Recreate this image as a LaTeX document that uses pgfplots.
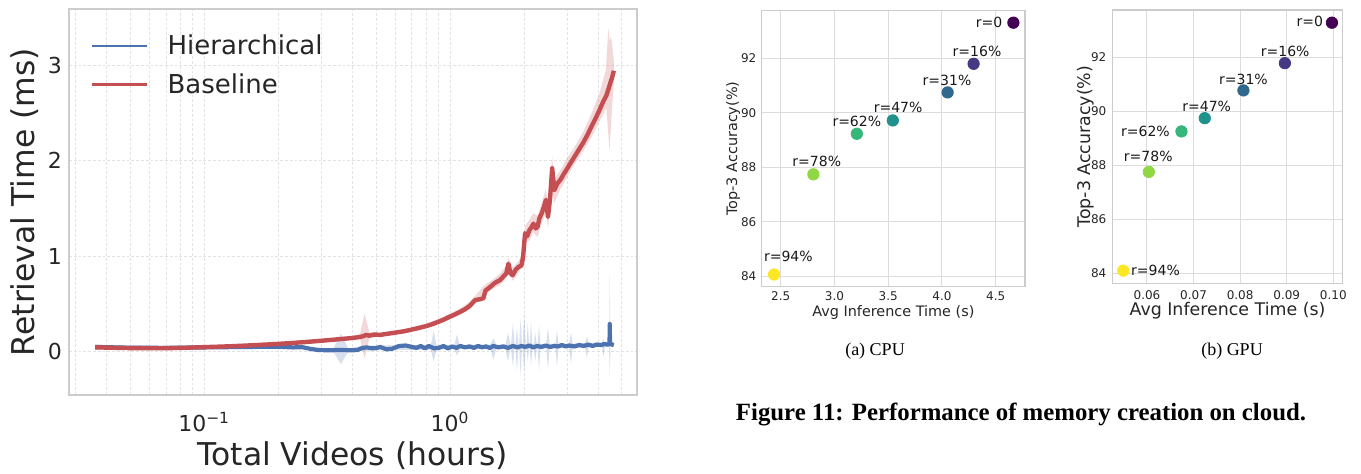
\documentclass[border=0pt]{standalone}
\usepackage{pgfplots}
\pgfplotsset{compat=1.18}
\usepackage{fontspec}
\setmainfont{DejaVu Sans}
\newfontfamily\capfont{Liberation Serif}

\definecolor{txt}{HTML}{262626}
\definecolor{cHier}{HTML}{4C72B0}
\definecolor{cBase}{HTML}{C44E52}
\definecolor{cFrame}{HTML}{CCCCCC}
\definecolor{cGridL}{HTML}{E3E3E3}
\definecolor{cGridR}{HTML}{DCDCDC}
\definecolor{v0}{HTML}{440154}
\definecolor{v1}{HTML}{443983}
\definecolor{v2}{HTML}{31688E}
\definecolor{v3}{HTML}{21918C}
\definecolor{v4}{HTML}{35B779}
\definecolor{v5}{HTML}{90D743}
\definecolor{v6}{HTML}{FDE725}

\tikzset{ann/.style={font=\fontsize{7}{8}\selectfont, text=black!90, inner sep=0pt}}

\pgfplotsset{
  panel/.style={
    scale only axis, anchor=south west,
    axis line style={draw=cFrame, line width=0.65pt},
    major tick length=0pt, minor tick length=0pt,
    tick label style={text=txt, inner sep=0pt},
    label style={text=txt},
    /pgf/number format/assume math mode=true,
  },
  scatterpanel/.style={
    panel,
    grid=major,
    major grid style={draw=cGridR, line width=0.5pt},
    ymin=83.62, ymax=93.75, ytick={84,86,88,90,92},
    tick label style={font=\fontsize{6}{7}\selectfont},
    ylabel={Top-3 Accuracy(\%)},
    xlabel={Avg Inference Time (s)},
  },
  rpts/.style={
    only marks, scatter, scatter src=explicit symbolic, mark=*, mark size=2.85pt,
    scatter/classes={
      a={draw=v0,fill=v0}, b={draw=v1,fill=v1}, c={draw=v2,fill=v2},
      d={draw=v3,fill=v3}, e={draw=v4,fill=v4}, f={draw=v5,fill=v5},
      g={draw=v6,fill=v6}},
  },
}

\begin{document}
\begin{tikzpicture}
\path[use as bounding box] (0,0) rectangle (680.5pt,236.5pt);

% ---------------- Retrieval time vs. total video length ----------------
\begin{axis}[panel,
  at={(34.5pt,39pt)}, width=283.85pt, height=192.85pt,
  xmode=log, xmin=0.0282, xmax=5.74, ymin=-0.453, ymax=3.583,
  axis line style={draw=cFrame, line width=1pt},
  xtick={0.1,1}, xticklabels={10\textsuperscript{−1},10\textsuperscript{0}},
  minor xtick={0.03,0.04,0.05,0.06,0.07,0.08,0.09,0.2,0.3,0.4,0.5,0.6,0.7,0.8,0.9,2,3,4,5},
  ytick={0,1,2,3},
  xmajorgrids, xminorgrids, ymajorgrids,
  major grid style={draw=cGridL, line width=0.5pt, dash pattern=on 1.4pt off 1pt},
  minor grid style={draw=cGridL, line width=0.5pt, dash pattern=on 1.4pt off 1pt},
  tick label style={font=\fontsize{11}{13}\selectfont},
  xticklabel style={yshift=-8.3pt},
  yticklabel style={xshift=-3.35pt},
  xlabel={Total Videos (hours)}, ylabel={Retrieval Time (ms)},
  label style={font=\fontsize{15.7}{18}\selectfont},
  xlabel style={at={(axis description cs:0.5,-0.184)}, anchor=base},
  ylabel style={at={(axis description cs:-0.0599,0.5)}, anchor=base},
  legend style={at={(axis description cs:0.026,0.946)}, anchor=north west,
    draw=none, fill=none, font=\fontsize{13}{15}\selectfont, text=txt,
    nodes={inner sep=0pt}, column sep=9.5pt, row sep=8pt},
  legend cell align=left,
  legend image code/.code={\draw[line width=1.4pt] (0pt,0pt) -- (27.8pt,0pt);},
]
% spread of the hierarchical index
\addplot[forget plot, draw=none, fill=cHier, fill opacity=0.22] coordinates {
 (0.036,0.065) (0.10,0.06) (0.25,0.06) (0.30,0.04) (0.335,0.035) (0.36,0.19)
 (0.385,0.035) (0.44,0.06) (0.60,0.07) (0.835,0.07) (0.857,0.22) (0.88,0.07)
 (1.04,0.07) (1.067,0.18) (1.094,0.07) (1.46,0.075) (1.50,0.14) (1.54,0.075)
 (1.68,0.075) (1.72,0.20) (1.76,0.075) (1.77,0.075) (1.80,0.30) (1.83,0.075)
 (1.845,0.075) (1.87,0.25) (1.895,0.075) (1.91,0.08) (1.935,0.35) (1.96,0.08)
 (1.975,0.08) (2.00,0.42) (2.03,0.08) (2.045,0.08) (2.07,0.30) (2.095,0.08)
 (2.11,0.08) (2.135,0.32) (2.16,0.08) (2.19,0.08) (2.22,0.20) (2.25,0.08)
 (2.27,0.08) (2.30,0.28) (2.33,0.08) (2.46,0.08) (2.50,0.25) (2.54,0.08)
 (2.68,0.085) (2.72,0.22) (2.76,0.085) (3.05,0.085) (3.10,0.20) (3.15,0.085)
 (3.54,0.09) (3.60,0.16) (3.66,0.09) (4.14,0.095) (4.20,0.13) (4.26,0.095)
 (4.43,0.10) (4.46,0.80) (4.49,0.10) (4.63,0.085)
 (4.63,0.055) (4.49,0.05) (4.46,-0.25) (4.43,0.05) (4.26,0.05) (4.20,-0.05)
 (4.14,0.05) (3.66,0.045) (3.60,-0.06) (3.54,0.045) (3.15,0.04) (3.10,-0.12)
 (3.05,0.04) (2.76,0.035) (2.72,-0.15) (2.68,0.035) (2.54,0.035) (2.50,-0.18)
 (2.46,0.035) (2.33,0.035) (2.30,-0.20) (2.27,0.035) (2.25,0.035) (2.22,-0.10)
 (2.19,0.035) (2.16,0.035) (2.135,-0.15) (2.11,0.035) (2.095,0.035) (2.07,-0.10)
 (2.045,0.035) (2.03,0.035) (2.00,-0.22) (1.975,0.035) (1.96,0.035) (1.935,-0.25)
 (1.91,0.035) (1.895,0.03) (1.87,-0.20) (1.845,0.03) (1.83,0.03) (1.80,-0.15)
 (1.77,0.03) (1.76,0.03) (1.72,-0.10) (1.68,0.03) (1.54,0.03) (1.50,-0.08)
 (1.46,0.03) (1.094,0.03) (1.067,-0.04) (1.04,0.03) (0.88,0.02) (0.857,-0.10)
 (0.835,0.02) (0.60,0.02) (0.44,0.01) (0.385,0.0) (0.36,-0.13) (0.335,0.0)
 (0.30,0.0) (0.25,0.035) (0.10,0.03) (0.036,0.035)
} -- cycle;
% spread of the baseline
\addplot[forget plot, draw=none, fill=cBase, fill opacity=0.22] coordinates {
 (0.036,0.075) (0.045,0.060) (0.06,0.050) (0.10,0.060) (0.20,0.095) (0.30,0.130)
 (0.40,0.165) (0.43,0.18) (0.449,0.40) (0.47,0.20) (0.52,0.20) (0.60,0.22)
 (0.70,0.255) (0.80,0.295) (0.90,0.345) (1.00,0.40) (1.10,0.455) (1.20,0.52)
 (1.26,0.58) (1.37,0.69) (1.50,0.76) (1.60,0.82) (1.69,0.90) (1.73,0.98)
 (1.80,0.88) (1.90,0.95) (2.00,1.05) (2.02,1.32) (2.10,1.38) (2.18,1.45)
 (2.27,1.42) (2.36,1.56) (2.45,1.70) (2.50,1.55) (2.60,2.05) (2.65,1.80)
 (2.81,1.90) (2.98,2.02) (3.22,2.15) (3.48,2.30) (3.77,2.50) (4.07,2.72)
 (4.30,2.95) (4.40,3.38) (4.46,3.25) (4.52,3.30) (4.63,3.05)
 (4.63,2.82) (4.52,2.40) (4.45,2.10) (4.32,2.55) (4.07,2.42) (3.77,2.25)
 (3.48,2.10) (3.22,1.97) (2.98,1.82) (2.81,1.70) (2.65,1.55) (2.60,1.70)
 (2.50,1.30) (2.45,1.45) (2.36,1.35) (2.27,1.20) (2.18,1.25) (2.10,1.16)
 (2.02,1.15) (2.00,0.92) (1.90,0.83) (1.80,0.74) (1.73,0.86) (1.69,0.76)
 (1.60,0.70) (1.50,0.66) (1.37,0.59) (1.26,0.50) (1.20,0.44) (1.10,0.385)
 (1.00,0.34) (0.90,0.29) (0.80,0.245) (0.70,0.21) (0.60,0.18) (0.52,0.16)
 (0.47,0.14) (0.449,-0.07) (0.43,0.14) (0.40,0.135) (0.30,0.10) (0.20,0.07)
 (0.10,0.036) (0.06,0.025) (0.045,0.025) (0.036,0.020)
} -- cycle;
% mean retrieval time, hierarchical index
\addplot[cHier, line width=2.1pt, line join=round] coordinates {
 (0.036,0.050) (0.05,0.042) (0.07,0.040) (0.10,0.045) (0.15,0.050) (0.20,0.052)
 (0.23,0.045) (0.25,0.048) (0.27,0.030) (0.29,0.018) (0.32,0.015) (0.36,0.018)
 (0.40,0.015) (0.42,0.018) (0.44,0.040) (0.46,0.045) (0.48,0.035) (0.50,0.038)
 (0.52,0.050) (0.55,0.025) (0.58,0.030) (0.60,0.045) (0.62,0.060) (0.66,0.065)
 (0.70,0.050) (0.73,0.040) (0.76,0.060) (0.79,0.035) (0.82,0.060) (0.86,0.035)
 (0.90,0.040) (0.94,0.060) (0.98,0.035) (1.02,0.055) (1.06,0.040) (1.10,0.060)
 (1.15,0.045) (1.20,0.055) (1.25,0.040) (1.30,0.060) (1.35,0.045) (1.40,0.055)
 (1.45,0.040) (1.50,0.060) (1.57,0.045) (1.65,0.055) (1.72,0.040) (1.80,0.060)
 (1.88,0.045) (1.95,0.060) (2.02,0.050) (2.10,0.065) (2.18,0.045) (2.26,0.060)
 (2.35,0.050) (2.45,0.065) (2.55,0.050) (2.65,0.060) (2.75,0.055) (2.85,0.070)
 (2.95,0.055) (3.05,0.065) (3.20,0.055) (3.35,0.070) (3.50,0.060) (3.65,0.075)
 (3.80,0.060) (3.95,0.075) (4.10,0.070) (4.25,0.080) (4.38,0.075) (4.45,0.080)
 (4.46,0.290) (4.47,0.090) (4.55,0.075) (4.63,0.070)
};
\addlegendentry{Hierarchical}
% mean retrieval time, flat baseline
\addplot[cBase, line width=2.2pt, line join=round] coordinates {
 (0.036,0.046) (0.040,0.043) (0.045,0.040) (0.050,0.038) (0.055,0.037)
 (0.060,0.036) (0.070,0.037) (0.080,0.040) (0.090,0.044) (0.100,0.048)
 (0.115,0.053) (0.130,0.058) (0.150,0.065) (0.175,0.074) (0.200,0.082)
 (0.230,0.092) (0.260,0.102) (0.300,0.115) (0.340,0.127) (0.380,0.138)
 (0.420,0.150) (0.440,0.160) (0.455,0.175) (0.470,0.168) (0.490,0.180)
 (0.520,0.176) (0.550,0.186) (0.600,0.200) (0.650,0.214) (0.700,0.232)
 (0.750,0.250) (0.800,0.268) (0.850,0.290) (0.900,0.315) (0.950,0.340)
 (1.000,0.368) (1.050,0.392) (1.100,0.418) (1.150,0.445) (1.200,0.478)
 (1.264,0.540) (1.330,0.550) (1.366,0.560) (1.393,0.640) (1.460,0.680)
 (1.520,0.720) (1.598,0.750) (1.650,0.790) (1.693,0.820) (1.727,0.920)
 (1.760,0.820) (1.796,0.800) (1.850,0.860) (1.905,0.890) (1.950,0.900)
 (1.981,0.990) (2.018,1.240) (2.060,1.210) (2.099,1.270) (2.140,1.300)
 (2.183,1.340) (2.230,1.290) (2.270,1.310) (2.310,1.400) (2.360,1.450)
 (2.410,1.520) (2.454,1.590) (2.501,1.410) (2.550,1.600) (2.601,1.920)
 (2.653,1.690) (2.730,1.760) (2.812,1.800) (2.900,1.860) (2.983,1.910)
 (3.100,1.980) (3.223,2.050) (3.350,2.120) (3.484,2.190) (3.620,2.270)
 (3.765,2.360) (3.920,2.450) (4.070,2.540) (4.200,2.620) (4.321,2.680)
 (4.420,2.760) (4.493,2.820) (4.560,2.870) (4.634,2.940)
};
\addlegendentry{Baseline}
\end{axis}

% ---------------- CPU ----------------
\begin{axis}[scatterpanel,
  at={(380.85pt,93.25pt)}, width=131.65pt, height=137.9pt,
  xmin=2.323, xmax=4.773, xtick={2.5,3,3.5,4,4.5},
  xticklabel style={/pgf/number format/.cd, fixed, fixed zerofill, precision=1, /tikz/.cd, yshift=-2.5pt},
  yticklabel style={xshift=-2.5pt},
  label style={font=\fontsize{7.2}{8.6}\selectfont},
  xlabel style={at={(axis description cs:0.5,-0.1095)}, anchor=base},
  ylabel style={at={(axis description cs:-0.0938,0.5)}, anchor=base},
]
\addplot[rpts] table[meta=c] {
x     y     c
4.665 93.31 a
4.295 91.80 b
4.053 90.75 c
3.543 89.72 d
3.208 89.23 e
2.804 87.74 f
2.438 84.06 g
};
\node[ann] at (axis cs:4.665,93.31) [xshift=-12.2pt] {r=0};
\node[ann] at (axis cs:4.295,91.80) [xshift=1.7pt,yshift=6pt] {r=16\%};
\node[ann] at (axis cs:4.053,90.75) [xshift=-0.3pt,yshift=6.15pt] {r=31\%};
\node[ann] at (axis cs:3.543,89.72) [xshift=2.65pt,yshift=6.5pt] {r=47\%};
\node[ann] at (axis cs:3.208,89.23) [yshift=6pt] {r=62\%};
\node[ann] at (axis cs:2.804,87.74) [xshift=1.7pt,yshift=6.65pt] {r=78\%};
\node[ann] at (axis cs:2.438,84.06) [xshift=7.15pt,yshift=9.3pt] {r=94\%};
\end{axis}

% ---------------- GPU ----------------
\begin{axis}[scatterpanel,
  at={(556.35pt,94.85pt)}, width=114.8pt, height=136.65pt,
  xmin=0.05264, xmax=0.10193, xtick={0.06,0.07,0.08,0.09,0.10},
  xticklabel style={/pgf/number format/.cd, fixed, fixed zerofill, precision=2, /tikz/.cd, yshift=-3.35pt},
  yticklabel style={xshift=-3pt},
  label style={font=\fontsize{8.7}{10.4}\selectfont},
  xlabel style={at={(axis description cs:0.5,-0.1186)}, anchor=base},
  ylabel style={at={(axis description cs:-0.0989,0.5)}, anchor=base},
]
\addplot[rpts] table[meta=c] {
x      y     c
0.0997 93.28 a
0.0896 91.78 b
0.0807 90.77 c
0.0724 89.74 d
0.0674 89.25 e
0.0604 87.75 f
0.0549 84.09 g
};
\node[ann] at (axis cs:0.0997,93.28) [xshift=-11pt,yshift=0.5pt] {r=0};
\node[ann] at (axis cs:0.0896,91.78) [xshift=0.15pt,yshift=5.85pt] {r=16\%};
\node[ann] at (axis cs:0.0807,90.77) [yshift=5.35pt] {r=31\%};
\node[ann] at (axis cs:0.0724,89.74) [xshift=1pt,yshift=6pt] {r=47\%};
\node[ann] at (axis cs:0.0674,89.25) [xshift=-18pt] {r=62\%};
\node[ann] at (axis cs:0.0604,87.75) [xshift=-0.3pt,yshift=7.8pt] {r=78\%};
\node[ann] at (axis cs:0.0549,84.09) [xshift=16.15pt] {r=94\%};
\end{axis}

% captions
\node[anchor=base, font=\capfont\fontsize{9}{11}\selectfont] at (437.5pt,59pt) {(a) CPU};
\node[anchor=base, font=\capfont\fontsize{9}{11}\selectfont] at (616pt,59pt) {(b) GPU};
\node[anchor=base, font=\capfont\bfseries\fontsize{12.4}{14}\selectfont] at (510.5pt,26.5pt)
  {Figure 11: Performance of memory creation on cloud.};
\end{tikzpicture}
\end{document}
